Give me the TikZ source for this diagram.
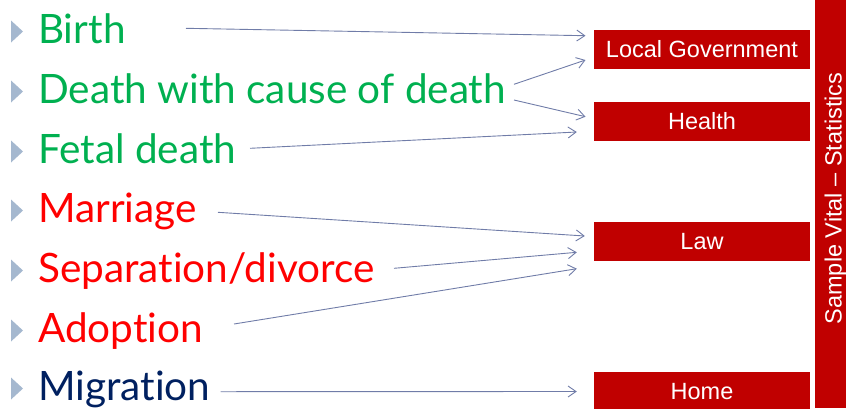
\documentclass[tikz,border=0pt]{standalone}
\usepackage{xcolor}
\usepackage{fontspec}
\usepackage{tikz}
\usetikzlibrary{arrows.meta,calc}
\setmainfont{Lato}[Ligatures={NoCommon,NoRequired}]
\newfontfamily\boxfont{Liberation Sans}
\definecolor{vsgreen}{RGB}{0,176,80}
\definecolor{vsred}{RGB}{255,0,0}
\definecolor{vsnavy}{RGB}{0,32,96}
\definecolor{boxred}{RGB}{192,0,0}
\definecolor{linkblue}{RGB}{112,124,168}
\definecolor{bulletblue}{RGB}{165,184,207}
\tikzset{
  item/.style={anchor=base west,inner sep=0pt,font=\fontsize{40.5}{48}\selectfont},
  agency/.style={fill=boxred,text=white,minimum width=216pt,minimum height=39pt,
                 inner sep=0pt,font=\boxfont\fontsize{23.5}{28}\selectfont},
  link/.style={draw=linkblue,line width=0.9pt,-{Straight Barb[length=8pt,width=11pt]}},
  bullet/.style={fill=bulletblue}
}

\begin{document}
\begin{tikzpicture}[x=1pt,y=-1pt]
    \useasboundingbox (0,0) rectangle (846,408);
    \foreach \b in {43,103,163,222,282,342,400}
        \fill[bullet] (11,\b-22.5) -- (23,\b-11.5) -- (11,\b-0.5) -- cycle;
    \node[item,text=vsgreen] (birth) at (38,43) {Birth};
    \node[item,text=vsgreen] (death) at (38,103) {Death with cause of death};
    \node[item,text=vsgreen] (fetal) at (38,163) {Fetal death};
    \node[item,text=vsred] (marriage) at (38,222) {Marriage};
    \node[item,text=vsred] (separation) at (38,282) {Separation/divorce};
    \node[item,text=vsred] (adoption) at (38,342) {Adoption};
    \node[item,text=vsnavy] (migration) at (38,400) {Migration};
    \node[agency] (local) at (702,49.3) {Local Government};
    \node[agency] (health) at (702,121.2) {Health};
    \node[agency] (law) at (702,241.5) {Law};
    \node[agency] (home) at (702,391.5) {Home};
    \node[fill=boxred,minimum width=31pt,minimum height=408pt,inner sep=0pt] (bar) at (830.5,204) {};
    \node[rotate=90,anchor=base,inner sep=0pt,text=white,font=\boxfont\fontsize{23.5}{28}\selectfont]
        (vitals) at (841.5,198.5) {Sample Vital – Statistics};
    \coordinate (birthout) at (186,28.3);
    \coordinate (deathup) at (514,84.3);
    \coordinate (deathdown) at (514,100);
    \coordinate (fetalout) at (250,148.3);
    \coordinate (marriageout) at (218,212.3);
    \coordinate (separationout) at (394,268.3);
    \coordinate (adoptionout) at (234,324);
    \coordinate (migrationout) at (220.7,391.7);
    \draw[link] (birthout) -- ($(local.west)+(-8.3,-13.6)$);
    \draw[link] (deathup) -- ($(local.west)+(-8.3,10.7)$);
    \draw[link] (deathdown) -- ($(health.west)+(-8.3,-4.5)$);
    \draw[link] (fetalout) -- ($(health.west)+(-17,10.8)$);
    \draw[link] (marriageout) -- ($(law.west)+(-9,-5.5)$);
    \draw[link] (separationout) -- ($(law.west)+(-17,10.8)$);
    \draw[link] (adoptionout) -- ($(law.west)+(-17,27.2)$);
    \draw[link] (migrationout) -- ($(home.west)+(-17,0)$);
\end{tikzpicture}
\end{document}
